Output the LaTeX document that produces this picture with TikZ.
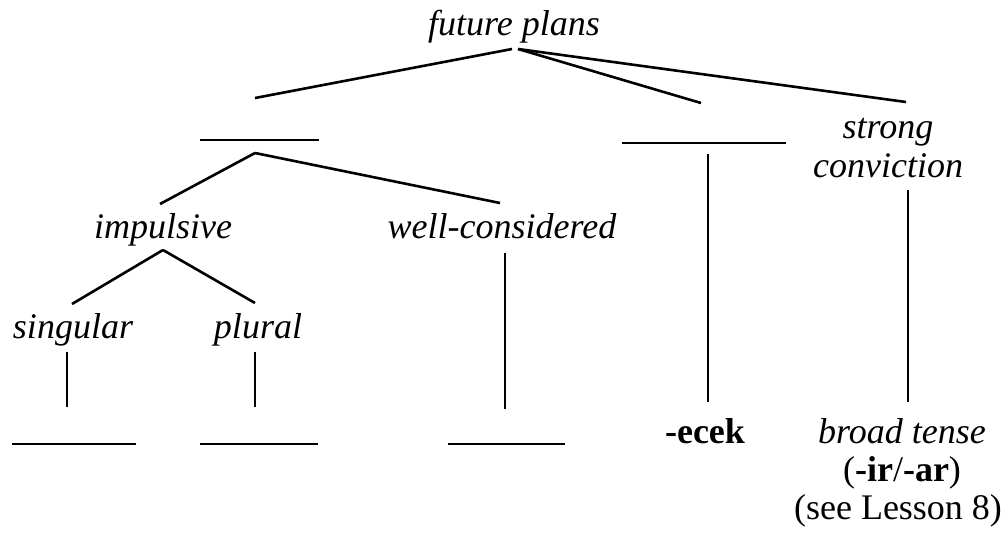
\documentclass[tikz,border=0pt]{standalone}
\usepackage{fontspec}
\setmainfont{Liberation Serif}
\usepackage{tikz}
\usetikzlibrary{positioning}

\begin{document}
\begin{tikzpicture}[x=1pt,y=-1pt,line width=2.6pt,
                    word/.style={font=\fontsize{36}{40}\selectfont\itshape,inner sep=0pt,anchor=base},
                    plain word/.style={font=\fontsize{36}{40}\selectfont,inner sep=0pt,anchor=base}]

  \useasboundingbox (0,0) rectangle (1008,536);

  % labels
  \node[word] (plans) at (514,35) {future plans};
  \node[word] (strong) at (888,138) {strong};
  \node[word] (conv) at (888,177) {conviction};
  \node[word] (impulsive) at (163,238) {impulsive};
  \node[word] (considered) at (502,238) {well-considered};
  \node[word] (singular) at (73,338) {singular};
  \node[word] (plural) at (258,338) {plural};
  \node[plain word,font=\fontsize{36}{40}\selectfont\bfseries] (ecek) at (705,443) {-ecek};
  \node[word] (broad) at (902,443) {broad tense};
  \node[plain word] (irar) at (902,481) {(\textbf{-ir}/\textbf{-ar})};
  \node[plain word] (lesson) at (898,519) {(see Lesson 8)};

  % end points
  \coordinate (top) at (512,49);
  \coordinate (top2) at (518,49);
  \coordinate (left end) at (255,98);
  \coordinate (mid end) at (701,103);
  \coordinate (right end) at (906,102);
  \coordinate (fork) at (255,153);
  \coordinate (imp top) at (160,204);
  \coordinate (con top) at (500,203);
  \coordinate (imp low) at (163,250);
  \coordinate (sing top) at (72,304);
  \coordinate (plur top) at (255,303);
  \coordinate (sing a) at (67,352);
  \coordinate (sing b) at (67,407);
  \coordinate (plur a) at (255,352);
  \coordinate (plur b) at (255,407);
  \coordinate (con a) at (505,253);
  \coordinate (con b) at (505,409);
  \coordinate (ecek a) at (708,154);
  \coordinate (ecek b) at (708,402);
  \coordinate (conv a) at (908,190);
  \coordinate (conv b) at (908,402);

  % blanks
  \coordinate (b1l) at (200,140);  \coordinate (b1r) at (319,140);
  \coordinate (b2l) at (622,143);  \coordinate (b2r) at (786,143);
  \coordinate (b3l) at (12,444);   \coordinate (b3r) at (136,444);
  \coordinate (b4l) at (200,444);  \coordinate (b4r) at (318,444);
  \coordinate (b5l) at (448,444);  \coordinate (b5r) at (565,444);

  \path[draw]
    (top) edge (left end)
    (top2) edge (mid end)
    (top2) edge (right end)
    (fork) edge (imp top)
    (fork) edge (con top)
    (imp low) edge (sing top)
    (imp low) edge (plur top)
    (sing a) edge (sing b)
    (plur a) edge (plur b)
    (con a) edge (con b)
    (ecek a) edge (ecek b)
    (conv a) edge (conv b)
    (b1l) edge (b1r)
    (b2l) edge (b2r)
    (b3l) edge (b3r)
    (b4l) edge (b4r)
    (b5l) edge (b5r);

\end{tikzpicture}
\end{document}
